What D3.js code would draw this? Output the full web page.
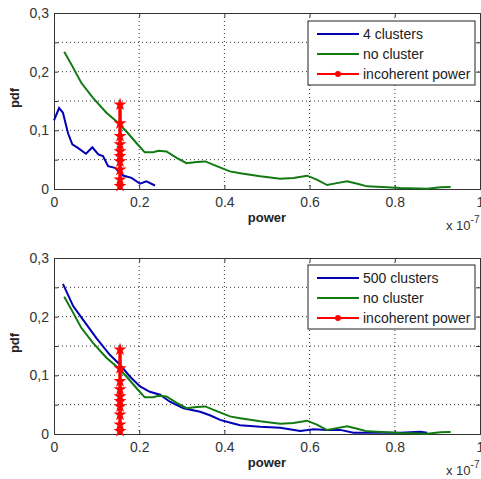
<!DOCTYPE html>
<html>
<head>
<meta charset="utf-8">
<script src="https://cdn.jsdelivr.net/npm/d3@7"></script>
<style>
  body { margin: 0; background: #fff; }
  svg { display: block; font-family: Arial, "Liberation Sans", sans-serif; }
</style>
</head>
<body>
<svg id="chart" width="481" height="479"></svg>
<script>
// axis ticks
var xTicks = [0, 0.2, 0.4, 0.6, 0.8, 1];
var xTickLabels = ['0', '0.2', '0.4', '0.6', '0.8', '1'];
var yTicks = [0, 0.1, 0.2, 0.3];
var yTickLabels = ['0', '0,1', '0,2', '0,3'];
var yGrid = [0.05, 0.1, 0.15, 0.2, 0.25];

// power (x 1e-7) / pdf pairs
var noCluster = [[0.024,0.234],[0.041,0.212],[0.064,0.181],[0.092,0.155],[0.123,0.130],[0.147,0.115],
  [0.170,0.098],[0.194,0.078],[0.213,0.0625],[0.233,0.0625],[0.245,0.065],[0.264,0.064],[0.288,0.053],
  [0.311,0.044],[0.335,0.046],[0.355,0.047],[0.382,0.039],[0.413,0.030],[0.437,0.027],[0.484,0.0216],
  [0.531,0.0176],[0.562,0.0188],[0.594,0.0227],[0.617,0.016],[0.641,0.0068],[0.664,0.010],[0.688,0.013],
  [0.712,0.009],[0.735,0.0045],[0.782,0.0028],[0.813,0.0017],[0.876,0.0006],[0.907,0.0028],[0.931,0.0034]];

var clusters4 = [[0,0.117],[0.012,0.138],[0.021,0.130],[0.033,0.095],[0.043,0.076],[0.056,0.070],
  [0.075,0.060],[0.090,0.071],[0.104,0.059],[0.115,0.056],[0.127,0.039],[0.143,0.036],[0.162,0.023],
  [0.182,0.019],[0.202,0.009],[0.217,0.013],[0.237,0.006]];

var clusters500 = [[0.021,0.256],[0.045,0.218],[0.068,0.195],[0.100,0.163],[0.131,0.135],[0.155,0.118],
  [0.178,0.098],[0.202,0.081],[0.225,0.072],[0.249,0.067],[0.272,0.055],[0.304,0.044],[0.343,0.038],
  [0.366,0.032],[0.390,0.024],[0.421,0.018],[0.437,0.015],[0.484,0.0125],[0.531,0.0108],[0.578,0.005],
  [0.609,0.008],[0.641,0.007],[0.672,0.007],[0.703,0.0023],[0.750,0.0023],[0.813,0.0023],[0.860,0.004],[0.876,0.002]];

var incoherentX = 0.155;
var incoherentY = [0.005, 0.016, 0.033, 0.047, 0.056, 0.064, 0.076, 0.09, 0.112, 0.144];

var svg = d3.select('#chart');
var left = 54, right = 480, plotH = 176;

function panel(top, blue, blueLabel, legendBox) {
  var g = svg.append('g').attr('transform', `translate(0, ${top})`);

  var x = d3.scaleLinear().domain([0, 1]).range([left, right]);
  var y = d3.scaleLinear().domain([0, 0.3]).range([plotH, 0]);

  // dotted grid
  g.selectAll('.gx').data(xTicks.slice(1, -1)).enter().append('line')
    .attr('x1', d => x(d)).attr('x2', d => x(d)).attr('y1', 0).attr('y2', plotH)
    .attr('stroke', '#333').attr('stroke-dasharray', '1,3');
  g.selectAll('.gy').data(yGrid).enter().append('line')
    .attr('x1', left).attr('x2', right).attr('y1', d => y(d)).attr('y2', d => y(d))
    .attr('stroke', '#333').attr('stroke-dasharray', '1,3');

  // axes with inward ticks
  var xAxis = d3.axisBottom(x).tickValues(xTicks).tickSize(-4).tickPadding(8)
    .tickFormat((d, i) => xTickLabels[i]);
  var ax = g.append('g').attr('transform', `translate(0, ${plotH})`).call(xAxis);
  var yAxis = d3.axisLeft(y).tickValues(d3.range(0, 0.301, 0.05)).tickSize(-4).tickPadding(5)
    .tickFormat(d => { var i = yTicks.findIndex(t => Math.abs(t - d) < 1e-6); return i < 0 ? '' : yTickLabels[i]; });
  var ay = g.append('g').attr('transform', `translate(${left}, 0)`).call(yAxis);
  var ayr = g.append('g').attr('transform', `translate(${right}, 0)`)
    .call(d3.axisRight(y).tickValues(d3.range(0, 0.301, 0.05)).tickSize(-4).tickFormat(''));
  var axt = g.append('g').call(d3.axisTop(x).tickValues(xTicks).tickSize(-4).tickFormat(''));
  [ax, ay, ayr, axt].forEach(a => {
    a.select('.domain').attr('stroke', '#333');
    a.selectAll('.tick line').attr('stroke', '#333');
    a.selectAll('text').attr('font-size', 14).attr('fill', '#333')
      .attr('font-family', 'Arial, "Liberation Sans", sans-serif');
  });

  var line = d3.line().x(d => x(d[0])).y(d => y(d[1]));

  g.append('path').datum(blue).attr('d', line)
    .attr('fill', 'none').attr('stroke', '#0000b4').attr('stroke-width', 2);
  g.append('path').datum(noCluster).attr('d', line)
    .attr('fill', 'none').attr('stroke', '#117a11').attr('stroke-width', 2);

  var star = d3.symbol().type(d3.symbolStar).size(22);
  g.append('line')
    .attr('x1', x(incoherentX)).attr('x2', x(incoherentX))
    .attr('y1', y(d3.min(incoherentY))).attr('y2', y(d3.max(incoherentY)))
    .attr('stroke', '#ff0000').attr('stroke-width', 3.5);
  g.selectAll('.mk').data(incoherentY).enter().append('path')
    .attr('d', star)
    .attr('transform', d => `translate(${x(incoherentX)}, ${y(d)})`)
    .attr('fill', '#ff0000').attr('stroke', '#ff0000').attr('stroke-width', 1.5);

  // labels
  g.append('text').attr('x', 267).attr('y', plotH + 33).attr('text-anchor', 'middle')
    .attr('font-size', 13).attr('font-weight', 'bold').attr('fill', '#222').text('power');
  g.append('text').attr('transform', `translate(19, ${plotH / 2 - 3}) rotate(-90)`)
    .attr('text-anchor', 'middle').attr('font-size', 13).attr('font-weight', 'bold')
    .attr('fill', '#222').text('pdf');
  var sci = g.append('text').attr('x', 446).attr('y', plotH + 41).attr('font-size', 13).attr('fill', '#333');
  sci.append('tspan').text('x 10');
  sci.append('tspan').attr('dy', -7).attr('font-size', 10).text('-7');

  // legend
  var lg = g.append('g').attr('transform', `translate(${legendBox[0]}, ${legendBox[1]})`);
  lg.append('rect').attr('width', legendBox[2]).attr('height', 64)
    .attr('fill', '#fff').attr('stroke', '#222');
  var items = [
    { label: blueLabel, color: '#0000b4' },
    { label: 'no cluster', color: '#117a11' },
    { label: 'incoherent power', color: '#ff0000', marker: true }
  ];
  items.forEach((it, i) => {
    var yy = 13 + i * 20;
    lg.append('line').attr('x1', 9).attr('x2', 51).attr('y1', yy).attr('y2', yy)
      .attr('stroke', it.color).attr('stroke-width', 2);
    if (it.marker) {
      lg.append('circle').attr('cx', 30).attr('cy', yy).attr('r', 3).attr('fill', it.color);
    }
    lg.append('text').attr('x', 55).attr('y', yy + 5).attr('font-size', 14).attr('fill', '#222')
      .text(it.label);
  });
}

panel(13, clusters4, '4 clusters', [308, 8, 167]);
panel(258, clusters500, '500 clusters', [308, 7, 167]);
</script>
</body>
</html>
